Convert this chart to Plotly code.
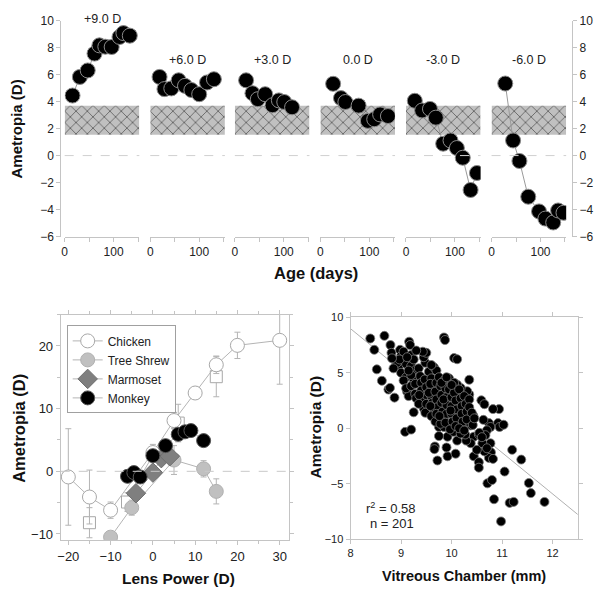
import plotly.graph_objects as go

FONT = "Liberation Sans, Arial, sans-serif"
W, H = 603, 600
AX = "#c4c4c4"
TXT = "#222222"

# ---------------- Top panel data ----------------
lens_labels = ["+9.0 D", "+6.0 D", "+3.0 D", "0.0 D", "-3.0 D", "-6.0 D"]
age_p9 = [16, 31, 47, 61, 71, 83, 96, 112, 120, 133]
amet_p9 = [4.45, 5.83, 6.31, 7.56, 8.17, 8.07, 8.05, 8.79, 9.08, 8.89]
age_p6 = [19, 29, 43, 58, 71, 84, 100, 116, 130]
amet_p6 = [5.83, 4.93, 4.98, 5.58, 5.17, 4.86, 4.55, 5.42, 5.66]
age_p3 = [23, 36, 47, 62, 77, 90, 101, 117]
amet_p3 = [5.58, 4.62, 4.18, 4.55, 3.73, 4.09, 3.97, 3.58]
age_0 = [26, 42, 51, 78, 97, 110, 122, 138]
amet_0 = [5.32, 4.26, 3.97, 3.70, 2.57, 2.69, 3.05, 2.93]
age_m3 = [18, 33, 49, 61, 76, 91, 104, 116, 132, 145]
amet_m3 = [4.06, 3.34, 3.46, 2.81, 0.88, 1.12, 0.56, -0.16, -2.55, -1.29]
age_m6 = [28, 44, 57, 75, 97, 110, 126, 136, 147]
amet_m6 = [5.34, 1.12, -0.40, -3.05, -4.14, -4.67, -4.96, -4.07, -4.24]
top_ages = [age_p9, age_p6, age_p3, age_0, age_m3, age_m6]
top_amets = [amet_p9, amet_p6, amet_p3, amet_0, amet_m3, amet_m6]
label_px_y = [12, 54, 54, 54, 54, 54]
band_low, band_high = 1.55, 3.7
age_max = 152.5
age_ticks = [0, 100]
age_minor_ticks = [50, 150]
top_y_range = [-6, 10]

# ---------------- Bottom-left data ----------------
lens_chick = [-20, -15, -10, 0, 5, 10, 15, 20, 30]
amet_chick = [-0.9, -4.1, -6.2, 3.0, 8.1, 12.5, 17.0, 20.1, 20.9]
err_chick = [7.7, 4.3, 1.3, 1.3, 1.3, 1.0, 1.4, 2.1, 7.0]
lens_sq = [-15, -6, 6, 15]
amet_sq = [-8.2, -4.9, 7.7, 15.1]
err_sq = [2.4, 1.5, 3.0, 3.2]
lens_ts = [-10, -5, 5, 12, 15]
amet_ts = [-10.5, -5.8, 1.8, 0.4, -3.2]
err_ts = [0.8, 1.2, 2.3, 1.3, 2.0]
lens_marm = [-4, 0, 2, 4]
amet_marm = [-3.5, -0.2, 2.1, 2.4]
lens_monk = [-6, -4.5, -3, 0, 3, 6, 7.6, 9, 12]
amet_monk = [-0.8, -0.2, -0.9, 2.5, 4.1, 5.9, 6.3, 6.5, 4.9]

# ---------------- Bottom-right data ----------------
vc_iso = [8.39, 8.67, 8.47, 8.52, 8.62, 8.75, 8.78, 8.87, 8.79, 8.81, 8.98, 9.16, 9.18, 9.25, 9.08, 9.2,
          9.85, 9.87, 10.05, 10.11, 10.35, 9.67, 9.66, 9.72, 9.92, 9.9, 10.08, 10.44, 10.54, 10.54,
          10.71, 10.8, 10.84, 10.98, 11.05, 11.2, 11.15, 11.23, 11.38, 11.53, 11.57, 11.84, 10.94,
          10.82, 10.59, 10.65, 10.92, 10.95, 11.03, 10.74, 10.77, 10.63, 10.7, 10.77, 10.78, 10.74,
          10.82, 10.65, 10.61, 10.5, 10.44, 10.38, 10.29, 10.27, 10.25, 10.38, 10.34, 10.43, 10.54,
          10.67, 10.55, 10.11, 9.92, 10.13, 10.04, 10.18, 10.35, 10.28, 10.31, 10.18, 10.11, 10.05,
          9.75, 9.75, 9.77, 9.85]
am_iso = [8.09, 8.33, 7.07, 5.31, 4.28, 3.49, 3.64, 2.76, 7.5, 6.8, 7.07, 7.8, 7.5, 1.44, -0.32, -0.12,
          8.18, 7.95, 6.33, 6.22, 4.37, -1.64, -1.88, -2.9, -2.52, -1.73, -2.29, -2.52, -3.05, -3.55,
          -4.96, -4.66, -6.39, -8.39, -3.9, -1.94, -6.72, -6.63, -2.82, -4.93, -5.84, -6.63, 1.73,
          1.73, 2.52, 2.17, 0.47, 0.12, 0.32, 0.47, 0.12, 0.76, -0.18, -1.35, -2.17, -2.67,
          -2.76, -2.08, -1.35, -1.94, -0.76, -1.35, -1.11, -0.56, 0.18, 0.26, 0.56, 1.14, -0.56,
          -0.62, -0.41, -1.11, -0.76, -0.18, -0.32, -0.47, 3.05, 2.9, 3.34, 3.64, 3.93, 3.78,
          -0.7, 0.12, 0.7, 0.12]
vc_dense = [8.9, 8.95, 9.0, 9.0, 9.05, 8.92, 9.1, 9.1, 9.05, 9.12, 9.15, 9.1, 8.85, 8.97,
            9.2, 9.2, 9.22, 9.25, 9.2, 9.28, 9.3, 9.25, 9.3, 9.28, 9.2, 9.15,
            9.35, 9.38, 9.4, 9.4, 9.42, 9.45, 9.35, 9.48, 9.45, 9.5, 9.47, 9.5, 9.5, 9.5, 9.43, 9.36, 9.48,
            9.55, 9.6, 9.6, 9.6, 9.62, 9.65, 9.6, 9.68, 9.55, 9.58, 9.65, 9.7, 9.7, 9.68, 9.7, 9.72, 9.7, 9.58,
            9.75, 9.78, 9.8, 9.8, 9.82, 9.85, 9.78, 9.85, 9.88, 9.9, 9.9, 9.9, 9.88, 9.76, 9.84, 9.8,
            9.95, 9.95, 10.0, 10.0, 10.0, 10.02, 9.97, 10.05, 10.05, 10.08, 10.1, 10.1, 10.08, 10.0, 9.98,
            10.15, 10.18, 10.2, 10.2, 10.22, 10.25, 10.28, 10.3, 10.3, 10.35, 10.35, 10.15, 10.25, 10.4, 10.42,
            8.82, 9.12, 9.6, 9.9, 10.45, 10.6, 10.7, 9.3]
am_dense = [6.0, 5.5, 6.5, 5.0, 6.9, 5.9, 5.8, 4.6, 4.3, 3.3, 2.9, 3.6, 5.4, 6.2,
            6.6, 5.6, 5.0, 4.4, 3.8, 3.1, 2.7, 6.2, 5.3, 4.0, 4.8, 5.2,
            5.4, 4.7, 4.1, 3.4, 2.5, 1.8, 2.2, 5.9, 6.4, 6.8, 4.4, 3.7, 3.0, 2.2, 6.9, 3.0, 1.4,
            5.1, 4.5, 3.7, 2.9, 2.3, 1.6, 1.1, 0.6, 3.2, 4.0, 5.5, 5.2, 4.1, 3.3, 2.6, 1.9, 1.3, 2.0,
            4.6, 3.8, 3.0, 2.3, 1.5, 0.9, 0.4, 4.3, 3.6, 2.8, 2.1, 1.3, 0.5, 1.1, 2.6, 4.1,
            4.5, 3.5, 2.8, 2.0, 1.3, 0.6, -0.1, 4.1, 3.2, 2.5, 1.7, 0.9, 0.2, 3.9, 1.6,
            3.5, 2.7, 2.0, 1.3, 0.6, 2.9, 2.2, 1.5, 0.8, 2.6, 1.9, 0.0, -0.2, 1.4, 0.3,
            6.3, 6.4, 5.7, 4.6, 0.9, -0.8, -1.8, 7.0]
vc_mm = vc_iso + vc_dense
amet_vc = am_iso + am_dense
fit_x = [8.0, 12.5]
fit_intercept_at8, fit_slope = 8.97, -3.72
r2_text, n_text = "0.58", "201"

fig = go.Figure()

# ---------------- Top panel traces ----------------
panel_left_px = [62, 148, 233, 319, 405, 491]
panel_w_px = 75
for i in range(6):
    xa = "x" if i == 0 else f"x{i+1}"
    fig.add_trace(go.Scatter(
        x=[0, age_max, age_max, 0, 0], y=[band_low, band_low, band_high, band_high, band_low],
        xaxis=xa, yaxis="y", mode="lines", line=dict(width=0, color="rgba(0,0,0,0)"),
        fill="toself", fillcolor="#c0c0c0",
        fillpattern=dict(shape="x", fgcolor="#111111", bgcolor="#c0c0c0", size=8, solidity=0.22),
        showlegend=False, hoverinfo="skip"))
    fig.add_trace(go.Scatter(
        x=top_ages[i], y=top_amets[i], xaxis=xa, yaxis="y", mode="lines+markers",
        line=dict(color="#9a9a9a", width=1),
        marker=dict(size=15, color="black", line=dict(color="#8a8a8a", width=1)),
        showlegend=False))
# carrier for the right-hand y axis (no data)
fig.add_trace(go.Scatter(x=[None], y=[None], xaxis="x6", yaxis="y2", showlegend=False,
                         hoverinfo="skip"))

layout_axes = {}
for i in range(6):
    name = "xaxis" if i == 0 else f"xaxis{i+1}"
    l = panel_left_px[i] / W
    r = (panel_left_px[i] + panel_w_px) / W
    layout_axes[name] = dict(
        domain=[l, r], anchor="y", range=[0, age_max], tickvals=age_ticks,
        minor=dict(tickvals=age_minor_ticks, ticks="outside", ticklen=4, tickcolor=AX),
        showline=True, linecolor=AX, linewidth=1, ticks="outside", ticklen=4, tickcolor=AX,
        showgrid=False, zeroline=False, tickfont=dict(size=12, color=TXT, family=FONT))

top_dom = [1 - 235 / H, 1 - 14 / H]
layout_axes["yaxis"] = dict(
    domain=top_dom, range=top_y_range, anchor="free", position=57.5 / W, dtick=2,
    showline=True, linecolor=AX, ticks="outside", ticklen=4, tickcolor=AX, showgrid=False,
    zeroline=False, tickfont=dict(size=12, color=TXT, family=FONT))
layout_axes["yaxis2"] = dict(
    overlaying="y", side="right", range=top_y_range, anchor="free", position=572 / W, dtick=2,
    showline=True, linecolor=AX, ticks="outside", ticklen=4, tickcolor=AX, showgrid=False,
    zeroline=False, tickfont=dict(size=12, color=TXT, family=FONT))

# ---------------- Bottom-left traces ----------------
ebar = dict(type="data", color="#b4b4b4", thickness=1, width=3)
fig.add_trace(go.Scatter(
    x=lens_sq, y=amet_sq, xaxis="x7", yaxis="y3", mode="markers",
    marker=dict(symbol="square", size=12, color="white", line=dict(color="#a8a8a8", width=1)),
    error_y=dict(ebar, array=err_sq), showlegend=False))
fig.add_trace(go.Scatter(
    x=lens_chick, y=amet_chick, xaxis="x7", yaxis="y3", mode="lines+markers", name="Chicken",
    line=dict(color="#b4b4b4", width=1),
    marker=dict(size=14, color="white", line=dict(color="#a8a8a8", width=1)),
    error_y=dict(ebar, array=err_chick)))
fig.add_trace(go.Scatter(
    x=lens_ts, y=amet_ts, xaxis="x7", yaxis="y3", mode="lines+markers", name="Tree Shrew",
    line=dict(color="#b4b4b4", width=1),
    marker=dict(size=14, color="#c0c0c0", line=dict(color="#b0b0b0", width=1)),
    error_y=dict(ebar, array=err_ts)))
fig.add_trace(go.Scatter(
    x=lens_marm, y=amet_marm, xaxis="x7", yaxis="y3", mode="lines+markers", name="Marmoset",
    line=dict(color="#b4b4b4", width=1),
    marker=dict(symbol="diamond", size=15, color="#7f7f7f", line=dict(color="#6f6f6f", width=1))))
fig.add_trace(go.Scatter(
    x=lens_monk, y=amet_monk, xaxis="x7", yaxis="y3", mode="lines+markers", name="Monkey",
    line=dict(color="#b4b4b4", width=1),
    marker=dict(size=14, color="black", line=dict(color="#555555", width=1))))

layout_axes["xaxis7"] = dict(
    domain=[58 / W, 287 / W], anchor="y3", range=[-21.8, 32.1], tickvals=[-20, -10, 0, 10, 20, 30],
    minor=dict(dtick=5, ticks="outside", ticklen=3, tickcolor=AX),
    showline=True, mirror="ticks", linecolor=AX, ticks="outside", ticklen=4, tickcolor=AX,
    showgrid=False, zeroline=False, tickfont=dict(size=13, color=TXT, family=FONT))
layout_axes["yaxis3"] = dict(
    domain=[1 - 546 / H, 1 - 315 / H], anchor="x7", range=[-11, 25], tickvals=[-10, 0, 10, 20],
    minor=dict(dtick=5, ticks="outside", ticklen=3, tickcolor=AX),
    showline=True, mirror="ticks", linecolor=AX, ticks="outside", ticklen=4, tickcolor=AX,
    showgrid=False, zeroline=False, tickfont=dict(size=13, color=TXT, family=FONT))

# ---------------- Bottom-right traces ----------------
fig.add_trace(go.Scatter(
    x=fit_x, y=[fit_intercept_at8 + fit_slope * (v - 8.0) for v in fit_x],
    xaxis="x8", yaxis="y4", mode="lines", line=dict(color="#b0b0b0", width=1),
    showlegend=False, hoverinfo="skip"))
fig.add_trace(go.Scatter(
    x=vc_mm, y=amet_vc, xaxis="x8", yaxis="y4", mode="markers",
    marker=dict(size=9, color="black", line=dict(color="#7a7a7a", width=0.8)),
    showlegend=False))

layout_axes["xaxis8"] = dict(
    domain=[349.3 / W, 577.7 / W], anchor="y4", range=[8, 12.5], dtick=1,
    showline=True, mirror="ticks", linecolor=AX, ticks="outside", ticklen=4, tickcolor=AX,
    showgrid=False, zeroline=False, tickfont=dict(size=11, color=TXT, family=FONT))
layout_axes["yaxis4"] = dict(
    domain=[1 - 545 / H, 1 - 317.7 / H], anchor="x8", range=[-10, 10], dtick=5,
    showline=True, mirror="ticks", linecolor=AX, ticks="outside", ticklen=4, tickcolor=AX,
    showgrid=False, zeroline=False, tickfont=dict(size=11, color=TXT, family=FONT))

# ---------------- Shapes (zero lines) ----------------
shapes = []
for i in range(6):
    xa = "x" if i == 0 else f"x{i+1}"
    shapes.append(dict(type="line", xref=f"{xa} domain", yref="y", x0=0, x1=1, y0=0, y1=0,
                       line=dict(color="#d0d0d0", width=1, dash="dash")))
shapes.append(dict(type="line", xref="x7 domain", yref="y3", x0=0, x1=1, y0=0, y1=0,
                   line=dict(color="#c8c8c8", width=1, dash="dash")))

# ---------------- Annotations ----------------
ann = []
for i in range(6):
    xa = "x" if i == 0 else f"x{i+1}"
    ann.append(dict(text=lens_labels[i], xref=f"{xa} domain", x=0.5, yref="paper",
                    y=1 - label_px_y[i] / H, yanchor="middle",
                    showarrow=False, font=dict(size=12.5, color=TXT, family=FONT)))

def title(text, xpx, ypx, size, angle=0):
    return dict(text=f"<b>{text}</b>", xref="paper", yref="paper", x=xpx / W, y=1 - ypx / H,
                xanchor="center", yanchor="middle", showarrow=False, textangle=angle,
                font=dict(size=size, color="#111111", family=FONT))

ann.append(title("Ametropia (D)", 14, 124.5, 15, -90))
ann.append(title("Age (days)", 315, 272, 16.5))
ann.append(title("Ametropia (D)", 16, 431, 16.5, -90))
ann.append(title("Lens Power (D)", 176, 585, 15.5))
ann.append(title("Ametropia (D)", 315, 430, 15.5, -90))
ann.append(title("Vitreous Chamber (mm)", 463, 583, 14.5))
ann.append(dict(text=f"r<sup>2</sup> = {r2_text}", xref="paper", yref="paper", x=363 / W, y=1 - 513 / H,
                xanchor="left", yanchor="middle", showarrow=False,
                font=dict(size=13, color=TXT, family=FONT)))
ann.append(dict(text=f"n = {n_text}", xref="paper", yref="paper", x=367 / W, y=1 - 529 / H,
                xanchor="left", yanchor="middle", showarrow=False,
                font=dict(size=13, color=TXT, family=FONT)))

fig.update_layout(
    width=W, height=H, autosize=False, margin=dict(l=0, r=0, t=0, b=0),
    paper_bgcolor="white", plot_bgcolor="white",
    font=dict(family=FONT, color=TXT),
    shapes=shapes, annotations=ann,
    legend=dict(x=64 / W, y=1 - 326 / H, xanchor="left", yanchor="top", bordercolor="#a0a0a0",
                borderwidth=1, bgcolor="white", font=dict(size=12, color=TXT, family=FONT),
                itemsizing="trace", tracegroupgap=0),
    **layout_axes)

fig.write_html("out.html", config={"displayModeBar": False},
               post_script="document.body.style.margin='0';")
